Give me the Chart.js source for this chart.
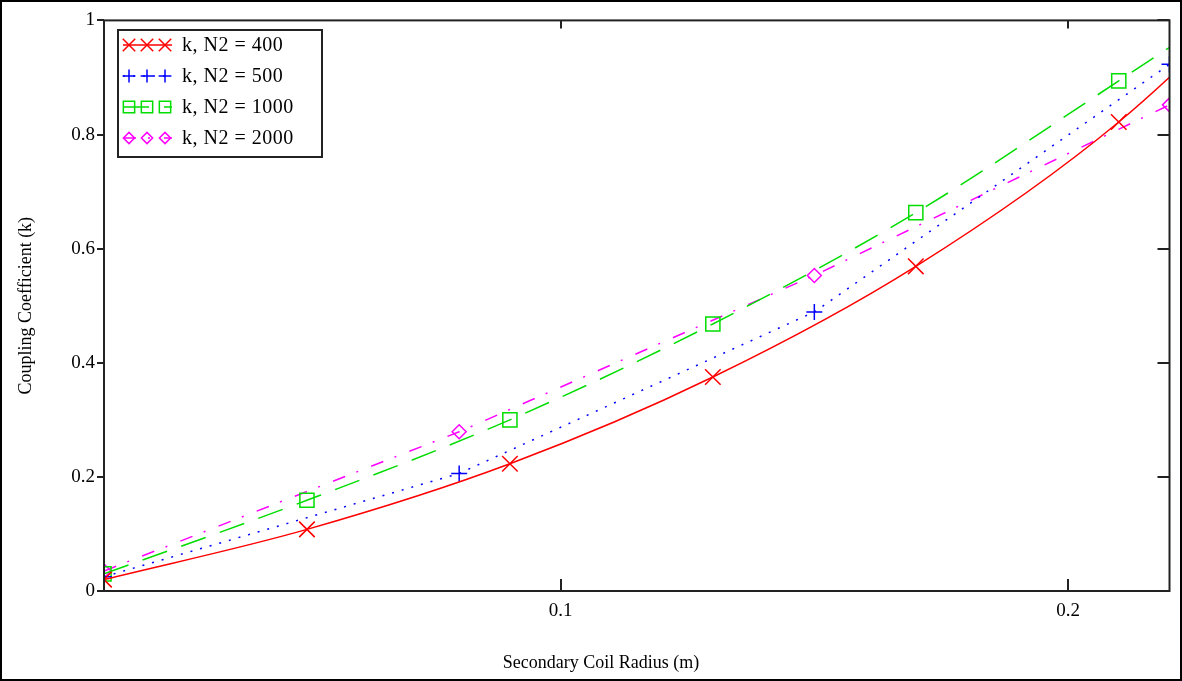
<!DOCTYPE html>
<html>
<head>
<meta charset="utf-8">
<title>Coupling Coefficient vs Secondary Coil Radius</title>
<script src="https://cdn.jsdelivr.net/npm/chart.js@4.4.1/dist/chart.umd.min.js"></script>
<style>
  html, body { margin: 0; padding: 0; background: #fff; }
  #wrap { width: 1182px; height: 681px; position: relative; }
</style>
</head>
<body>
<div id="wrap"><canvas id="kChart" width="1182" height="681"></canvas></div>
<script>
// radius samples (m) for each run
const radiusA = [0.01, 0.05, 0.09, 0.13, 0.17, 0.21, 0.25];
const radiusB = [0.01, 0.08, 0.15, 0.22];

// coupling coefficient for each secondary turn count
const k400  = [0.020, 0.108, 0.223, 0.375, 0.569, 0.822, 1.160];
const k500  = [0.025, 0.206, 0.489, 0.923];
const k1000 = [0.030, 0.159, 0.300, 0.468, 0.663, 0.894, 1.130];
const k2000 = [0.035, 0.279, 0.553, 0.852];

const seriesNames = ['k, N2 = 400', 'k, N2 = 500', 'k, N2 = 1000', 'k, N2 = 2000'];

const xTickValues = [0.1, 0.2];
const yTickValues = [0, 0.2, 0.4, 0.6, 0.8, 1];

const xTitle = 'Secondary Coil Radius (m)';
const yTitle = 'Coupling Coefficient (k)';

const FONT = '"Liberation Serif", "Times New Roman", serif';

function toPoints(xs, ys) {
  return xs.map((x, i) => ({ x: x, y: ys[i] }));
}

const styles = [
  { color: '#ff0000', dash: [], point: 'crossRot', r: 11, curve: true },
  { color: '#0000ff', dash: [2, 8], point: 'cross', r: 8, curve: false },
  { color: '#00dd00', dash: [26, 15], point: 'rect', r: 10, curve: true },
  { color: '#ff00ff', dash: [13, 12, 2, 14], point: 'rectRot', r: 7, curve: false }
];

const seriesData = [
  toPoints(radiusA, k400),
  toPoints(radiusB, k500),
  toPoints(radiusA, k1000),
  toPoints(radiusB, k2000)
];

// frame, plot box, tick marks, axis titles and the boxed legend
const decorations = {
  id: 'decorations',
  beforeDraw(chart) {
    const ctx = chart.ctx;
    ctx.save();
    ctx.fillStyle = '#fff';
    ctx.fillRect(0, 0, chart.width, chart.height);
    ctx.restore();
  },
  afterDraw(chart) {
    const ctx = chart.ctx;
    const a = chart.chartArea;
    const xs = chart.scales.x, ys = chart.scales.y;
    ctx.save();

    // outer frame
    ctx.strokeStyle = '#000';
    ctx.lineWidth = 2;
    ctx.strokeRect(1, 1, chart.width - 2, chart.height - 2);

    // plot box
    ctx.strokeStyle = '#222';
    ctx.strokeRect(a.left, a.top, a.right - a.left, a.bottom - a.top);

    // tick marks
    ctx.lineWidth = 2;
    ctx.beginPath();
    yTickValues.forEach(v => {
      const py = Math.round(ys.getPixelForValue(v));
      ctx.moveTo(a.left - 7, py); ctx.lineTo(a.left, py);
      ctx.moveTo(a.right - 12, py); ctx.lineTo(a.right, py);
    });
    xTickValues.forEach(v => {
      const px = Math.round(xs.getPixelForValue(v));
      ctx.moveTo(px, a.bottom); ctx.lineTo(px, a.bottom - 12);
      ctx.moveTo(px, a.top); ctx.lineTo(px, a.top + 8);
    });
    ctx.stroke();

    // axis titles
    ctx.fillStyle = '#000';
    ctx.font = '18px ' + FONT;
    ctx.textAlign = 'center';
    ctx.textBaseline = 'middle';
    ctx.fillText(xTitle, 601, 663);
    ctx.translate(26, (a.top + a.bottom) / 2);
    ctx.rotate(-Math.PI / 2);
    ctx.fillText(yTitle, 0, 0);
    ctx.restore();

    // legend
    ctx.save();
    const lx = 118, ly = 30, lw = 204, lh = 127;
    ctx.fillStyle = '#fff';
    ctx.fillRect(lx, ly, lw, lh);
    ctx.strokeStyle = '#222';
    ctx.lineWidth = 2;
    ctx.strokeRect(lx, ly, lw, lh);
    ctx.font = '20px ' + FONT;
    ctx.textAlign = 'left';
    ctx.textBaseline = 'middle';
    ctx.letterSpacing = '0.5px';
    seriesNames.forEach((name, i) => {
      const st = styles[i];
      const cy = ly + 15 + i * 31;
      ctx.strokeStyle = st.color;
      ctx.lineWidth = 1.5;
      ctx.setLineDash(st.dash);
      ctx.beginPath();
      ctx.moveTo(123, cy); ctx.lineTo(172, cy);
      ctx.stroke();
      ctx.setLineDash([]);
      ctx.fillStyle = 'rgba(0,0,0,0)';
      [129, 147, 165].forEach(mx => {
        Chart.helpers.drawPoint(ctx, {
          pointStyle: st.point, radius: st.r * 0.8, borderWidth: 1.5, rotation: 0
        }, mx, cy);
      });
      ctx.fillStyle = '#000';
      ctx.fillText(name, 182, cy + 1);
    });
    ctx.restore();
  }
};

new Chart(document.getElementById('kChart'), {
  type: 'line',
  data: {
    datasets: seriesNames.map((name, i) => ({
      label: name,
      data: seriesData[i],
      borderColor: styles[i].color,
      borderWidth: 1.5,
      borderDash: styles[i].dash,
      fill: false,
      cubicInterpolationMode: styles[i].curve ? 'monotone' : 'default',
      tension: 0,
      pointStyle: styles[i].point,
      pointRadius: styles[i].r,
      pointBorderWidth: 1.5,
      pointBorderColor: styles[i].color,
      pointBackgroundColor: 'rgba(0,0,0,0)'
    }))
  },
  options: {
    responsive: false,
    animation: false,
    layout: { padding: { left: 0, right: 12, top: 18, bottom: 0 } },
    plugins: {
      legend: { display: false },
      tooltip: { enabled: false }
    },
    scales: {
      x: {
        type: 'linear',
        min: 0.01,
        max: 0.22,
        afterFit: s => { s.height = 90; },
        afterBuildTicks: s => { s.ticks = xTickValues.map(v => ({ value: v })); },
        grid: { display: false, drawTicks: false },
        border: { display: false },
        ticks: {
          padding: 9,
          color: '#000',
          font: { family: FONT, size: 19 },
          maxRotation: 0,
          callback: v => String(v)
        }
      },
      y: {
        type: 'linear',
        min: 0,
        max: 1,
        afterFit: s => { s.width = 104; },
        afterBuildTicks: s => { s.ticks = yTickValues.map(v => ({ value: v })); },
        grid: { display: false, drawTicks: false },
        border: { display: false },
        ticks: {
          padding: 9,
          color: '#000',
          font: { family: FONT, size: 19 },
          callback: v => String(v)
        }
      }
    }
  },
  plugins: [decorations]
});
</script>
</body>
</html>
